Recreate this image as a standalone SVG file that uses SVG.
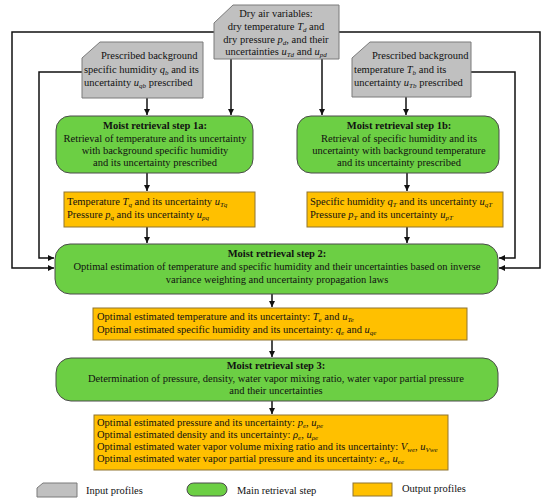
<svg xmlns="http://www.w3.org/2000/svg" width="550" height="503" viewBox="0 0 550 503">
<style>
text{font-family:"Liberation Serif","Times New Roman",serif;font-size:10.5px;fill:#111}
.b{font-weight:bold}
.m{text-anchor:middle}
.i{font-style:italic}
.s{font-style:italic;font-size:7px;baseline-shift:-2px}
.in{fill:#c0c0c0;stroke:#7a7a7a;stroke-width:1}
.st{fill:#6ccf44;stroke:#4a4a4a;stroke-width:1}
.out{fill:#ffc000;stroke:#8f7430;stroke-width:1}
.c{fill:none;stroke:#111;stroke-width:1.5}
</style>
<defs>
<marker id="ah" markerWidth="6" markerHeight="6" refX="6" refY="3" orient="auto" markerUnits="userSpaceOnUse">
<path d="M0,0 L6,3 L0,6 z" fill="#111"/>
</marker>
</defs>
<g id="connectors">
<path class="c" d="M214,32 H12 V268 H54" marker-end="url(#ah)"/>
<path class="c" d="M339,32 H540 V268 H499" marker-end="url(#ah)"/>
<path class="c" d="M82,72 H39 V258 H54" marker-end="url(#ah)"/>
<path class="c" d="M471,72 H515 V258 H499" marker-end="url(#ah)"/>
<path class="c" d="M231,59 V115" marker-end="url(#ah)"/>
<path class="c" d="M322,59 V115" marker-end="url(#ah)"/>
<path class="c" d="M147,98 V115" marker-end="url(#ah)"/>
<path class="c" d="M406,97 V115" marker-end="url(#ah)"/>
<path class="c" d="M147,173 V191" marker-end="url(#ah)"/>
<path class="c" d="M407,173 V191" marker-end="url(#ah)"/>
<path class="c" d="M147,227 V243" marker-end="url(#ah)"/>
<path class="c" d="M407,227 V243" marker-end="url(#ah)"/>
<path class="c" d="M272,294 V307" marker-end="url(#ah)"/>
<path class="c" d="M272,340 V357" marker-end="url(#ah)"/>
<path class="c" d="M272,401 V414" marker-end="url(#ah)"/>
</g>
<g id="dryair">
<path class="in" d="M214,23 L233,5 H339 V59 H214 Z"/>
<text x="276" y="17" class="m">Dry air variables:</text>
<text x="276" y="30" class="m">dry temperature <tspan class="i">T</tspan><tspan class="s">d</tspan> and</text>
<text x="276" y="43" class="m">dry pressure <tspan class="i">p</tspan><tspan class="s">d</tspan>, and their</text>
<text x="276" y="55" class="m">uncertainties <tspan class="i">u</tspan><tspan class="s">Td</tspan> and <tspan class="i">u</tspan><tspan class="s">pd</tspan></text>
</g>
<g id="qb">
<path class="in" d="M82,58 L100,42 H203 V98 H82 Z"/>
<text x="101" y="59">Prescribed background</text>
<text x="84" y="73">specific humidity <tspan class="i">q</tspan><tspan class="s">b</tspan> and its</text>
<text x="84" y="86">uncertainty <tspan class="i">u</tspan><tspan class="s">qb</tspan> prescribed</text>
</g>
<g id="tb">
<path class="in" d="M352,58 L370,42 H471 V97 H352 Z"/>
<text x="372" y="59">Prescribed background</text>
<text x="354" y="73">temperature <tspan class="i">T</tspan><tspan class="s">b</tspan> and its</text>
<text x="354" y="86">uncertainty <tspan class="i">u</tspan><tspan class="s">Tb</tspan> prescribed</text>
</g>
<g id="step1a">
<rect class="st" x="56" y="116" width="197" height="57" rx="14"/>
<text x="155" y="129" class="m b">Moist retrieval step 1a:</text>
<text x="155" y="142" class="m">Retrieval of temperature and its uncertainty</text>
<text x="155" y="154" class="m">with background specific humidity</text>
<text x="155" y="166" class="m">and its uncertainty prescribed</text>
</g>
<g id="step1b">
<rect class="st" x="297" y="116" width="202" height="57" rx="14"/>
<text x="399" y="129" class="m b">Moist retrieval step 1b:</text>
<text x="399" y="142" class="m">Retrieval of specific humidity and its</text>
<text x="399" y="154" class="m">uncertainty with background temperature</text>
<text x="399" y="166" class="m">and its uncertainty prescribed</text>
</g>
<g id="outq">
<rect class="out" x="64" y="192" width="191" height="35"/>
<text x="67" y="205">Temperature <tspan class="i">T</tspan><tspan class="s">q</tspan> and its uncertainty <tspan class="i">u</tspan><tspan class="s">Tq</tspan></text>
<text x="67" y="218">Pressure <tspan class="i">p</tspan><tspan class="s">q</tspan> and its uncertainty <tspan class="i">u</tspan><tspan class="s">pq</tspan></text>
</g>
<g id="outT">
<rect class="out" x="307" y="192" width="196" height="35"/>
<text x="310" y="205">Specific humidity <tspan class="i">q</tspan><tspan class="s">T</tspan> and its uncertainty <tspan class="i">u</tspan><tspan class="s">qT</tspan></text>
<text x="310" y="218">Pressure <tspan class="i">p</tspan><tspan class="s">T</tspan> and its uncertainty <tspan class="i">u</tspan><tspan class="s">pT</tspan></text>
</g>
<g id="step2">
<rect class="st" x="55" y="244" width="443" height="50" rx="15"/>
<text x="277" y="257" class="m b">Moist retrieval step 2:</text>
<text x="277" y="270" class="m">Optimal estimation of temperature and specific humidity and their uncertainties based on inverse</text>
<text x="277" y="283" class="m">variance weighting and uncertainty propagation laws</text>
</g>
<g id="out2">
<rect class="out" x="93" y="308" width="374" height="32"/>
<text x="97" y="320">Optimal estimated temperature and its uncertainty: <tspan class="i">T</tspan><tspan class="s">e</tspan> and <tspan class="i">u</tspan><tspan class="s">Te</tspan></text>
<text x="97" y="333">Optimal estimated specific humidity and its uncertainty: <tspan class="i">q</tspan><tspan class="s">e</tspan> and <tspan class="i">u</tspan><tspan class="s">qe</tspan></text>
</g>
<g id="step3">
<rect class="st" x="56" y="358" width="442" height="43" rx="15"/>
<text x="276" y="369" class="m b">Moist retrieval step 3:</text>
<text x="276" y="382" class="m">Determination of pressure, density, water vapor mixing ratio, water vapor partial pressure</text>
<text x="276" y="394" class="m">and their uncertainties</text>
</g>
<g id="out3">
<rect class="out" x="94" y="415" width="354" height="55"/>
<text x="97" y="426">Optimal estimated pressure and its uncertainty: <tspan class="i">p</tspan><tspan class="s">e</tspan>, <tspan class="i">u</tspan><tspan class="s">pe</tspan></text>
<text x="97" y="438">Optimal estimated density and its uncertainty:  <tspan class="i">ρ</tspan><tspan class="s">e</tspan>, <tspan class="i">u</tspan><tspan class="s">ρe</tspan></text>
<text x="97" y="450">Optimal estimated water vapor volume mixing ratio and its uncertainty: <tspan class="i">V</tspan><tspan class="s">we</tspan>, <tspan class="i">u</tspan><tspan class="s">Vwe</tspan></text>
<text x="97" y="462">Optimal estimated water vapor partial pressure and its uncertainty: <tspan class="i">e</tspan><tspan class="s">e</tspan>, <tspan class="i">u</tspan><tspan class="s">ee</tspan></text>
</g>
<g id="legend">
<path class="in" d="M37,488 L43,483 H77 V497 H37 Z"/>
<text x="86" y="494">Input profiles</text>
<rect class="st" x="187" y="483" width="40" height="13" rx="6.5"/>
<text x="237" y="494">Main retrieval step</text>
<rect class="out" x="353" y="483" width="39" height="13"/>
<text x="402" y="492">Output profiles</text>
</g>
</svg>
